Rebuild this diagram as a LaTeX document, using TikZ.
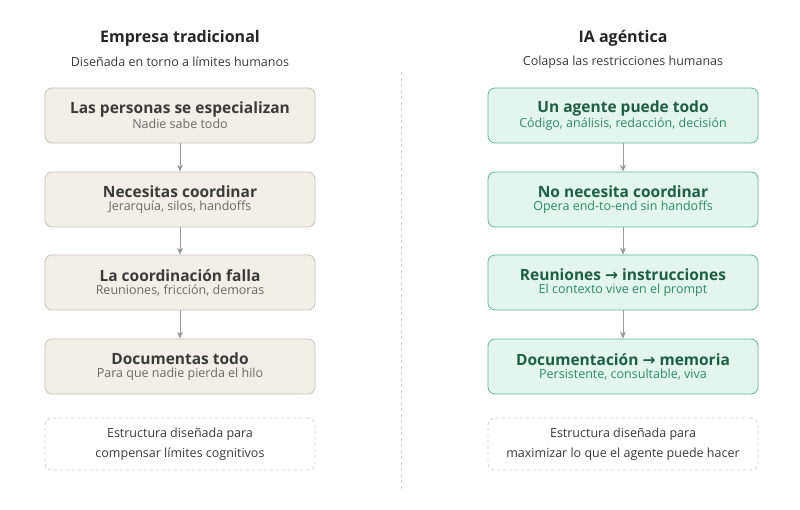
\documentclass[tikz,border=0pt]{standalone}
\usepackage{fontspec}
\setmainfont{Open Sans}
\newfontfamily\symf{DejaVu Sans}
\usetikzlibrary{arrows.meta}
\definecolor{lfill}{HTML}{F2EFE8}
\definecolor{ldraw}{HTML}{C8C3B8}
\definecolor{ltext}{HTML}{3A3A3A}
\definecolor{lsub}{HTML}{6A6A6A}
\definecolor{rfill}{HTML}{E2F5EE}
\definecolor{rdraw}{HTML}{5DBB98}
\definecolor{rtext}{HTML}{1D5E45}
\definecolor{rsub}{HTML}{2E8A66}
\definecolor{dashgray}{HTML}{D2D2D2}
\newcommand{\ar}{{\symf →}}
\tikzset{x=1pt,y=1pt,
 lbox/.style={draw=ldraw,fill=lfill,rounded corners=7pt,minimum width=270pt,minimum height=55pt,align=center,line width=0.8pt},
 rbox/.style={draw=rdraw,fill=rfill,rounded corners=7pt,minimum width=270pt,minimum height=55pt,align=center,line width=0.8pt},
 nbox/.style={draw=dashgray,dashed,rounded corners=7pt,minimum width=270pt,minimum height=52pt,align=center,line width=0.8pt,text=ltext,font=\fontsize{12.5}{20}\selectfont},
 arr/.style={-{Stealth[length=7pt,width=6pt]},draw=gray!80,line width=0.9pt},
 hd/.style={font=\fontsize{16}{19}\selectfont\bfseries,text=black!85},
 sh/.style={font=\fontsize{12.5}{15}\selectfont,text=ltext}}
\newcommand{\lt}[2]{{\fontsize{15.5}{19}\selectfont\bfseries\color{ltext}#1}\\[1pt]{\fontsize{12.5}{15}\selectfont\color{lsub}#2}}
\newcommand{\rt}[2]{{\fontsize{15.5}{19}\selectfont\bfseries\color{rtext}#1}\\[1pt]{\fontsize{12.5}{15}\selectfont\color{rsub}#2}}
\begin{document}
\begin{tikzpicture}
\useasboundingbox[fill=white] (0,0) rectangle (800,-510);
\node[hd] (lh) at (180,-38) {Empresa tradicional};
\node[sh] (ls) at (180,-62) {Diseñada en torno a límites humanos};
\node[hd] (rh) at (623,-38) {IA agéntica};
\node[sh] (rs) at (623,-62) {Colapsa las restricciones humanas};
\coordinate (d1) at (401,-72); \coordinate (d2) at (401,-492);
\draw[dashgray,dashed,line width=0.8pt] (d1) -- (d2);
\node[lbox] (l1) at (180,-115.5) {\lt{Las personas se especializan}{Nadie sabe todo}};
\node[lbox] (l2) at (180,-199.5) {\lt{Necesitas coordinar}{Jerarquía, silos, handoffs}};
\node[lbox] (l3) at (180,-282.5) {\lt{La coordinación falla}{Reuniones, fricción, demoras}};
\node[lbox] (l4) at (180,-366.5) {\lt{Documentas todo}{Para que nadie pierda el hilo}};
\node[nbox] (l5) at (180,-444) {Estructura diseñada para\\compensar límites cognitivos};
\node[rbox] (r1) at (623,-115.5) {\rt{Un agente puede todo}{Código, análisis, redacción, decisión}};
\node[rbox] (r2) at (623,-199.5) {\rt{No necesita coordinar}{Opera end-to-end sin handoffs}};
\node[rbox] (r3) at (623,-282.5) {\rt{Reuniones \ar{} instrucciones}{El contexto vive en el prompt}};
\node[rbox] (r4) at (623,-366.5) {\rt{Documentación \ar{} memoria}{Persistente, consultable, viva}};
\node[nbox] (r5) at (623,-444) {Estructura diseñada para\\maximizar lo que el agente puede hacer};
\draw[arr] (l1) -- (l2); \draw[arr] (l2) -- (l3); \draw[arr] (l3) -- (l4);
\draw[arr] (r1) -- (r2); \draw[arr] (r2) -- (r3); \draw[arr] (r3) -- (r4);
\end{tikzpicture}
\end{document}
